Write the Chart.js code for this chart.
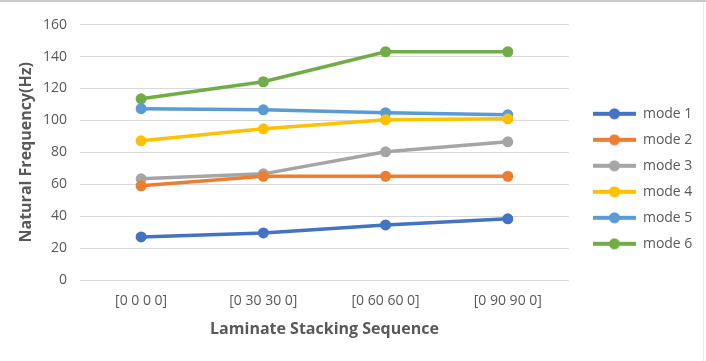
<!DOCTYPE html>
<html>
<head>
<meta charset="utf-8">
<script src="https://cdn.jsdelivr.net/npm/chart.js@4/dist/chart.umd.min.js"></script>
<style>
  html, body { margin: 0; padding: 0; background: #fff; }
  #wrap { width: 706px; height: 361px; }
</style>
</head>
<body>
<div id="wrap"><canvas id="chart" width="706" height="361"></canvas></div>
<script>
const sequences = ["[0 0 0 0]", "[0 30 30 0]", "[0 60 60 0]", "[0 90 90 0]"];
const mode1 = [27, 29.5, 34.5, 38.3];
const mode2 = [59, 65, 65, 65];
const mode3 = [63.4, 66.5, 80.3, 86.6];
const mode4 = [87.2, 94.7, 100.4, 101];
const mode5 = [107.3, 106.6, 104.8, 103.5];
const mode6 = [113.5, 124.2, 143, 143];
const yTicks = [0, 20, 40, 60, 80, 100, 120, 140, 160];

const colors = ['#4472C4', '#ED7D31', '#A5A5A5', '#FFC000', '#5B9BD5', '#70AD47'];
const names = ['mode 1', 'mode 2', 'mode 3', 'mode 4', 'mode 5', 'mode 6'];
const series = [mode1, mode2, mode3, mode4, mode5, mode6];

// legend marker: short line with a dot in the middle
function legendMarker(color) {
    const c = document.createElement('canvas');
    c.width = 43; c.height = 14;
    const g = c.getContext('2d');
    g.strokeStyle = color;
    g.lineWidth = 4;
    g.beginPath(); g.moveTo(0, 7); g.lineTo(43, 7); g.stroke();
    g.fillStyle = color;
    g.beginPath(); g.arc(21.5, 7, 5.5, 0, Math.PI * 2); g.fill();
    return c;
}

// thin frame lines at the top and right edge, legend nudged up a little
const frame = {
    id: 'frame',
    afterLayout(chart) {
        chart.legend.top -= 3;
        chart.legend.bottom -= 3;
    },
    afterDraw(chart) {
        const ctx = chart.ctx;
        ctx.save();
        ctx.strokeStyle = '#c9c9c9';
        ctx.lineWidth = 2;
        ctx.beginPath(); ctx.moveTo(0, 1); ctx.lineTo(chart.width, 1); ctx.stroke();
        ctx.strokeStyle = '#ececec';
        ctx.lineWidth = 1;
        ctx.beginPath(); ctx.moveTo(703.5, 2); ctx.lineTo(703.5, chart.height); ctx.stroke();
        ctx.restore();
    }
};

const canvas = document.getElementById('chart');
const myChart = new Chart(canvas, {
    type: 'line',
    data: {
        labels: sequences,
        datasets: series.map((d, i) => ({
            label: names[i],
            data: d,
            borderColor: colors[i],
            backgroundColor: colors[i],
            borderWidth: 3.5,
            pointRadius: 5.5,
            pointHoverRadius: 5.5,
            pointBorderWidth: 0,
            fill: false,
            tension: 0
        }))
    },
    options: {
        responsive: false,
        animation: false,
        layout: { padding: { left: 13, right: 11.5, top: 24.6, bottom: 22 } },
        plugins: {
            tooltip: { enabled: false },
            legend: {
                position: 'right',
                align: 'center',
                labels: {
                    usePointStyle: true,
                    pointStyleWidth: 43,
                    padding: 12,
                    color: '#595959',
                    font: { family: 'Open Sans', size: 14 },
                    generateLabels(chart) {
                        return chart.data.datasets.map((ds, i) => ({
                            text: ds.label,
                            pointStyle: legendMarker(ds.borderColor),
                            fontColor: '#595959',
                            strokeStyle: ds.borderColor,
                            fillStyle: ds.borderColor,
                            lineWidth: 0,
                            hidden: false,
                            datasetIndex: i
                        }));
                    }
                }
            }
        },
        scales: {
            x: {
                offset: true,
                afterFit(axis) { axis.height = 59; },
                grid: { display: false, drawTicks: false },
                border: { display: false },
                ticks: { color: '#595959', font: { family: 'Open Sans', size: 14 }, padding: 13 },
                title: {
                    display: true,
                    text: 'Laminate Stacking Sequence',
                    color: '#595959',
                    font: { family: 'Open Sans', size: 16, weight: 'bold' },
                    padding: { top: 0, bottom: 0 }
                }
            },
            y: {
                min: 0,
                max: 160,
                afterBuildTicks(axis) { axis.ticks = yTicks.map(v => ({ value: v })); },
                afterFit(axis) { axis.width = 67; },
                grid: { color: '#d9d9d9', lineWidth: 1, drawTicks: false },
                border: { display: false },
                ticks: { color: '#595959', font: { family: 'Open Sans', size: 14 }, padding: 13 },
                title: {
                    display: true,
                    text: 'Natural Frequency(Hz)',
                    color: '#595959',
                    font: { family: 'Open Sans', size: 16, weight: 'bold' },
                    padding: { top: 4, bottom: 4 }
                }
            },
            // spacer between plot and legend
            gap: {
                position: 'right',
                display: true,
                grid: { display: false, drawTicks: false },
                border: { display: false },
                ticks: { display: false },
                afterFit(axis) { axis.width = 12; }
            }
        }
    },
    plugins: [frame]
});
</script>
</body>
</html>
